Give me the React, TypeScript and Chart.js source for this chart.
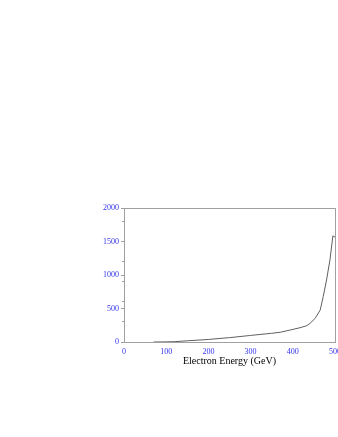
import React, { useEffect, useRef } from "react";
import { Chart, registerables } from "chart.js";

Chart.register(...registerables);

const energy = [70, 100, 120, 150, 200, 230, 250, 300, 350, 370, 394, 417, 433, 441, 453, 465, 472, 480, 488, 495, 500];
const rate = [0, 2, 5, 18, 38, 55, 65, 98, 130, 145, 179, 213, 243, 279, 353, 478, 676, 925, 1224, 1585, 1565];
const xTitle = "Electron Energy (GeV)";

const FONT = "'Liberation Serif', 'Times New Roman', serif";
const BLUE = "#3333ee";
const FRAME = "#a0a0a0";

const framePlugin = {
  id: "frame",
  afterDraw(chart: any) {
    const { ctx, chartArea } = chart;
    ctx.save();
    ctx.strokeStyle = FRAME;
    ctx.lineWidth = 1;
    ctx.strokeRect(
      Math.round(chartArea.left) + 0.5,
      Math.round(chartArea.top) + 0.5,
      Math.round(chartArea.right - chartArea.left),
      Math.round(chartArea.bottom - chartArea.top)
    );
    ctx.restore();
  },
};

export default function App() {
  const ref = useRef<HTMLCanvasElement | null>(null);
  useEffect(() => {
    if (!ref.current) return;
    const chart = new Chart(ref.current, {
      type: "line",
      data: {
        datasets: [
          {
            data: energy.map((e, i) => ({ x: e, y: rate[i] })),
            borderColor: "#606060",
            borderWidth: 1,
            pointRadius: 0,
            tension: 0,
            fill: false,
            yAxisID: "y",
          },
        ],
      },
      options: {
        animation: false,
        responsive: false,
        events: [],
        layout: { padding: { left: 0, right: 3, top: 208, bottom: 70 } },
        plugins: { legend: { display: false }, tooltip: { enabled: false } },
        scales: {
          x: {
            type: "linear",
            min: 0,
            max: 500,
            grid: { display: false, drawTicks: false },
            border: { display: true, color: FRAME, width: 1 },
            ticks: {
              stepSize: 100,
              color: BLUE,
              font: { family: FONT, size: 8 },
              padding: 5,
              maxRotation: 0,
              autoSkip: false,
              callback: (v: any) => String(v),
            },
            title: {
              display: true,
              text: xTitle,
              color: "#000000",
              font: { family: FONT, size: 10 },
              padding: { top: 0, bottom: 0 },
            },
            afterFit(scale: any) {
              scale.height = 25;
              scale.paddingLeft = 0;
              scale.paddingRight = 0;
            },
          },
          y: {
            type: "linear",
            position: "left",
            weight: 1,
            min: 0,
            max: 2000,
            grid: { drawOnChartArea: false, drawTicks: true, tickLength: 3, color: FRAME },
            border: { display: true, color: FRAME, width: 1 },
            ticks: {
              stepSize: 500,
              color: BLUE,
              font: { family: FONT, size: 8 },
              padding: 2,
              callback: (v: any) => String(v),
            },
            afterFit(scale: any) {
              scale.width = 124;
              scale.paddingTop = 0;
              scale.paddingBottom = 0;
            },
          },
          yMinor: {
            type: "linear",
            position: "left",
            weight: 0,
            min: 0,
            max: 2000,
            grid: { drawOnChartArea: false, drawTicks: true, tickLength: 2, color: FRAME },
            border: { display: false },
            ticks: { stepSize: 100, display: true, callback: () => "", padding: 0 },
            afterFit(scale: any) {
              scale.width = 0;
              scale.paddingTop = 0;
              scale.paddingBottom = 0;
            },
          },
        },
      },
      plugins: [framePlugin],
    });
    return () => chart.destroy();
  }, []);
  return (
    <div style={{ position: "absolute", left: 0, top: 0, width: 338, height: 437, background: "#fff" }}>
      <canvas ref={ref} width={338} height={437} style={{ display: "block" }} />
    </div>
  );
}
